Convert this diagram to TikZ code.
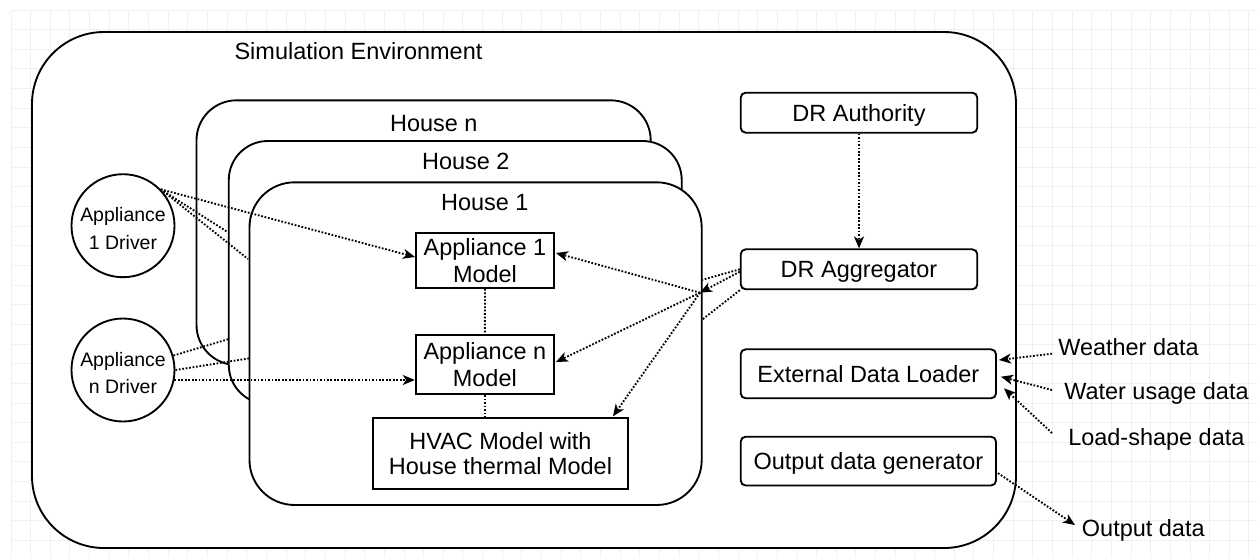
\documentclass[tikz,border=0pt]{standalone}
\usepackage{fontspec}
\setmainfont{Liberation Sans}
\usetikzlibrary{arrows.meta,calc}
\newcommand{\mainsz}{\fontsize{17.6pt}{20pt}\selectfont}
\newcommand{\drvsz}{\fontsize{14.6pt}{20.8pt}\selectfont}
\begin{document}
\begin{tikzpicture}[x=0.75pt,y=-0.75pt,
  lw/.style={line width=1.4pt},
  gridc/.style={line width=0.75pt, draw=black!6},
  container/.style={draw, lw, fill=white, rectangle, inner sep=0pt},
  box/.style={draw, lw, fill=white, rectangle, inner sep=0pt, align=center, font=\mainsz},
  rbox/.style={box, rounded corners=3.75pt, text height=12.6pt, text depth=0pt},
  drv/.style={draw, lw, circle, fill=white, inner sep=0pt, minimum size=77.25pt},
  drvtxt/.style={inner sep=0pt, align=center, font=\drvsz, yshift=-2.2pt},
  lbl/.style={inner sep=0pt, font=\mainsz, text height=12.6pt, text depth=0pt},
  dlbl/.style={lbl, anchor=west},
  link/.style={lw, dash pattern=on 1.3pt off 1.3pt},
  arr/.style={link, -{Stealth[length=9pt,width=7.5pt,inset=2.5pt]}},
]
\useasboundingbox (0,0) rectangle (1257,558);
\fill[white] (0,0) rectangle (1257,558);
% background grid
\foreach \i in {0,...,63} \draw[gridc] ({11+19.65*\i},10) -- ({11+19.65*\i},558);
\foreach \j in {0,...,27} \draw[gridc] (11,{10+19.65*\j}) -- (1257,{10+19.65*\j});

% containers
\node[container, rounded corners=54pt, minimum width=738pt, minimum height=387pt] (env) at (524,290) {};
\node[lbl] (envl) at (358.5,51) {Simulation Environment};
\node[container, rounded corners=30pt, minimum width=340.65pt, minimum height=198.5pt] (hn) at (423.6,232.65) {};
\node[lbl] (hnl) at (433.8,123.5) {House n};
\node[container, rounded corners=29.25pt, minimum width=339.7pt, minimum height=197.25pt] (h2) at (455.25,272.5) {};
\node[lbl] (h2l) at (465.8,161.5) {House 2};
\node[container, rounded corners=33.75pt, minimum width=339.15pt, minimum height=242pt] (h1) at (475.6,343.65) {};
\node[lbl] (h1l) at (484.8,202) {House 1};

% house contents
\node[box, minimum width=103.5pt, minimum height=41.25pt] (a1) at (485,260.5) {Appliance 1\\Model};
\node[box, minimum width=103.7pt, minimum height=44.5pt] (an) at (484.85,364.65) {Appliance n\\Model};
\node[box, minimum width=191.7pt, minimum height=53.25pt] (hvac) at (500.5,453.8) {\raisebox{-1.5pt}{HVAC Model with}\\House thermal Model};

% drivers
\node[drv] (d1) at (123,225.7) {};
\node[drvtxt] (d1t) at (d1.center) {Appliance\\1 Driver};
\node[drv] (dn) at (123,370) {};
\node[drvtxt] (dnt) at (dn.center) {Appliance\\n Driver};

% right column
\node[rbox, minimum width=177.45pt, minimum height=30pt] (auth) at (859,112.7) {DR Authority};
\node[rbox, minimum width=177.45pt, minimum height=30pt] (agg) at (859,269.3) {DR Aggregator};
\node[rbox, minimum width=191.5pt, minimum height=36.75pt] (ext) at (868.35,373.8) {External Data Loader};
\node[rbox, minimum width=191.5pt, minimum height=36.6pt] (outg) at (868.35,461.1) {Output data generator};

% external labels
\node[dlbl] (wd) at (1058,346.7) {Weather data};
\node[dlbl] (wu) at (1064,390.7) {Water usage data};
\node[dlbl] (ld) at (1068,436.7) {Load-shape data};
\node[dlbl] (od) at (1081.7,528.3) {Output data};

% free ends
\coordinate (jn) at (700,292.7);
\coordinate (e2a) at (227.5,232);
\coordinate (e1a) at (248,259);
\coordinate (e2n) at (228.8,339);
\coordinate (e1n) at (249.5,358.3);
\coordinate (g2) at (701.7,280);
\coordinate (g3) at (701.7,320);

% driver connectors
\draw[link] (d1.44) -- (e2a);
\draw[link] (d1.44) -- (e1a);
\draw[arr] (d1.44) -- ($(a1.west)+(0,-3.5)$);
\draw[link] (dn.16) -- (e2n);
\draw[link] (dn.east) -- (e1n);
\draw[arr] (dn.-11) -- (dn.-11 -| an.west);

% internal links
\draw[link] (a1.south) -- (an.north);
\draw[link] (an.south) -- (an.south |- hvac.north);

% DR connectors
\draw[arr] (auth.south) -- (agg.north);
\draw[arr] ($(agg.west)+(0,2.4)$) -- (jn);
\draw[link] (agg.west) -- (g2);
\draw[link] (agg.south west) -- (g3);
\draw[arr] (jn) -- ($(a1.east)+(1,-7.5)$);
\draw[arr] (jn) -- ($(an.east)+(1,-2.6)$);
\draw[arr] (jn) -- ($(hvac.north east)+(-16.3,-1)$);

% data connectors
\draw[arr] ($(wd.west)+(-6,7)$) -- ($(ext.east)+(2,-13.8)$);
\draw[arr] ($(wu.west)+(-12,-0.7)$) -- ($(ext.east)+(4,2.9)$);
\draw[arr] ($(ld.west)+(-16,-3.7)$) -- ($(ext.east)+(7,14.5)$);
\draw[arr] ($(outg.east)+(1,12)$) -- ($(od.west)+(-6.7,-3.3)$);
\end{tikzpicture}
\end{document}
